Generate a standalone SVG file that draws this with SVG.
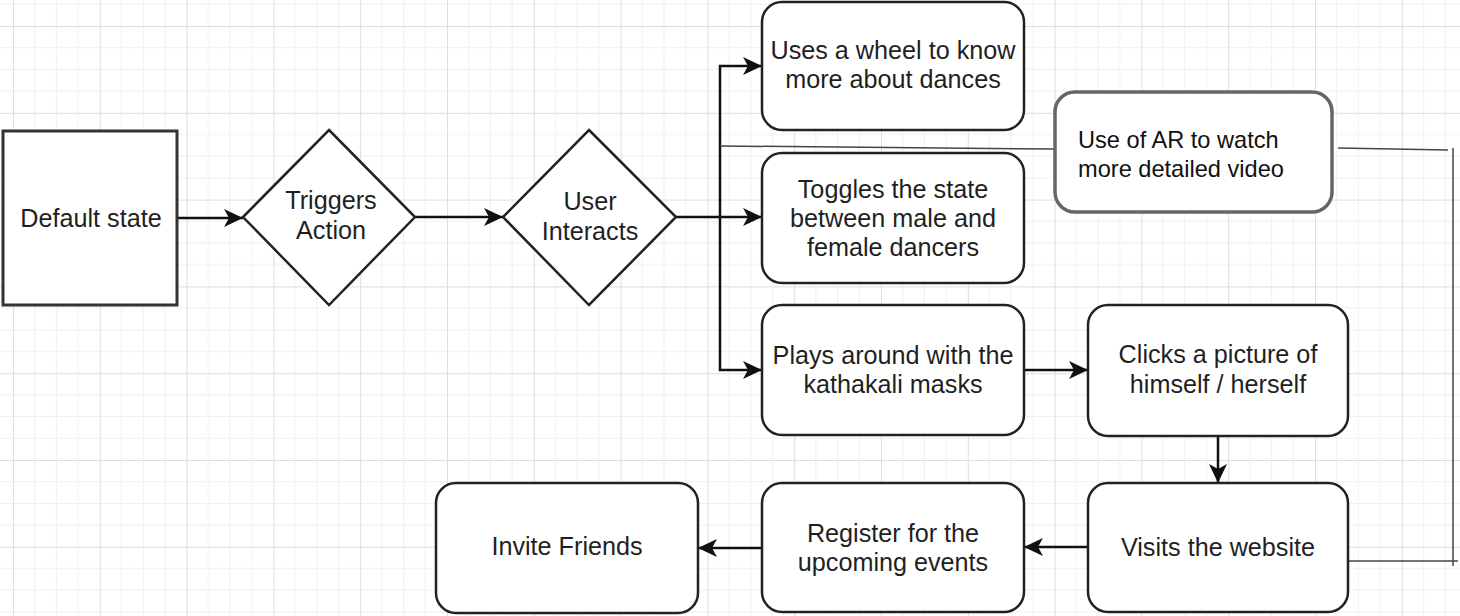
<svg xmlns="http://www.w3.org/2000/svg" width="1460" height="616" viewBox="0 0 1460 616">
  <defs>
    <!-- background grid: major cells with four minor subdivisions -->
    <pattern id="grid" x="13" y="26" width="86.8" height="86.8" patternUnits="userSpaceOnUse">
      <path d="M21.7,0 V86.8 M43.4,0 V86.8 M65.1,0 V86.8 M0,21.7 H86.8 M0,43.4 H86.8 M0,65.1 H86.8" stroke="#efefef" stroke-width="1" fill="none"/>
      <path d="M0.5,0 V86.8 M0,0.5 H86.8" stroke="#dedede" stroke-width="1" fill="none"/>
    </pattern>
    <marker id="arrow" markerUnits="userSpaceOnUse" markerWidth="22" markerHeight="20" refX="19" refY="9" orient="auto">
      <path d="M0,0 L19,9 L0,18 L5,9 Z" fill="#111"/>
    </marker>
    <style>
      .box { fill: #fff; stroke: #222; stroke-width: 2.5; }
      .label { font-family: "Liberation Sans", Arial, sans-serif; font-size: 25.2px; fill: #1f1f1f; text-anchor: middle; }
      .note { font-family: "Liberation Sans", Arial, sans-serif; font-size: 23.6px; fill: #111; }
      .flow { fill: none; stroke: #111; stroke-width: 2.5; }
      .thin { fill: none; stroke: #444; stroke-width: 1.5; }
    </style>
  </defs>

  <rect width="1460" height="616" fill="#fff"/>
  <rect width="1460" height="616" fill="url(#grid)"/>

  <g id="connectors">
    <path class="flow" d="M177,218 H243" marker-end="url(#arrow)"/>
    <path class="flow" d="M415,217 H503" marker-end="url(#arrow)"/>
    <path class="flow" d="M676,217 H720" stroke-width="3"/>
    <path class="flow" d="M720,217 V66 H762" marker-end="url(#arrow)"/>
    <path class="flow" d="M720,217 H762" marker-end="url(#arrow)"/>
    <path class="flow" d="M720,217 V370 H762" marker-end="url(#arrow)"/>
    <path class="flow" d="M1024,370 H1088" marker-end="url(#arrow)"/>
    <path class="flow" d="M1218,436 V483" marker-end="url(#arrow)"/>
    <path class="flow" d="M1088,547 H1024" marker-end="url(#arrow)"/>
    <path class="flow" d="M762,548 H698" marker-end="url(#arrow)"/>
    <!-- AR note links -->
    <path class="thin" d="M720,146 L1057,149"/>
    <path class="thin" d="M1338,148 L1448,150"/>
    <path class="thin" d="M1453,148 V566"/>
    <path class="thin" d="M1348,561 H1458"/>
  </g>

  <g id="default-state">
    <rect x="3" y="131" width="174" height="174" fill="#fff" stroke="#333" stroke-width="3"/>
    <text class="label" x="91" y="227">Default state</text>
  </g>

  <g id="triggers-action">
    <polygon class="box" points="329,130 415,217 329,305 243,217"/>
    <text class="label" x="331" y="209">Triggers</text>
    <text class="label" x="331" y="239">Action</text>
  </g>

  <g id="user-interacts">
    <polygon class="box" points="589,130 676,217 589,305 503,217"/>
    <text class="label" x="590" y="210">User</text>
    <text class="label" x="590" y="240">Interacts</text>
  </g>

  <g id="wheel">
    <rect class="box" x="762" y="2" width="262" height="128" rx="20"/>
    <text class="label" x="893" y="59">Uses a wheel to know</text>
    <text class="label" x="893" y="88">more about dances</text>
  </g>

  <g id="toggle">
    <rect class="box" x="762" y="153" width="262" height="130" rx="20"/>
    <text class="label" x="893" y="198">Toggles the state</text>
    <text class="label" x="893" y="227">between male and</text>
    <text class="label" x="893" y="256">female dancers</text>
  </g>

  <g id="masks">
    <rect class="box" x="762" y="305" width="262" height="130" rx="20"/>
    <text class="label" x="893" y="364">Plays around with the</text>
    <text class="label" x="893" y="393">kathakali masks</text>
  </g>

  <g id="picture">
    <rect class="box" x="1088" y="305" width="260" height="131" rx="20"/>
    <text class="label" x="1218" y="363">Clicks a picture of</text>
    <text class="label" x="1218" y="393">himself / herself</text>
  </g>

  <g id="website">
    <rect class="box" x="1088" y="483" width="260" height="129" rx="20"/>
    <text class="label" x="1218" y="556">Visits the website</text>
  </g>

  <g id="register">
    <rect class="box" x="762" y="483" width="262" height="129" rx="20"/>
    <text class="label" x="893" y="542">Register for the</text>
    <text class="label" x="893" y="571">upcoming events</text>
  </g>

  <g id="invite">
    <rect class="box" x="436" y="483" width="262" height="130" rx="20"/>
    <text class="label" x="567" y="555">Invite Friends</text>
  </g>

  <g id="ar-note">
    <rect x="1055" y="92" width="277" height="120" rx="20" fill="#fff" stroke="#666" stroke-width="3.5"/>
    <text class="note" x="1078" y="148">Use of AR to watch</text>
    <text class="note" x="1078" y="177">more detailed video</text>
  </g>
</svg>
